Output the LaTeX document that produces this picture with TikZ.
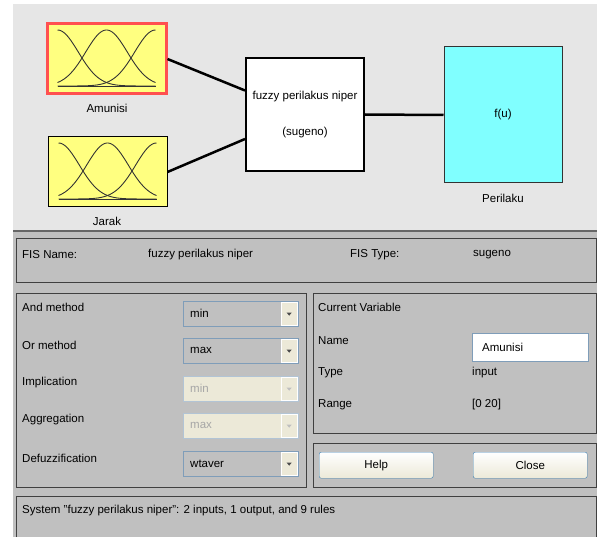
\documentclass[tikz,border=0pt]{standalone}
\usepackage{fontspec}
\setmainfont{Liberation Sans}
\definecolor{topgray}{RGB}{230,230,230}
\definecolor{panelgray}{RGB}{192,192,192}
\definecolor{mfyellow}{RGB}{255,255,128}
\definecolor{selred}{RGB}{255,80,80}
\definecolor{outcyan}{RGB}{128,255,255}
\definecolor{menublue}{RGB}{127,157,185}
\definecolor{beige}{RGB}{236,233,216}
\definecolor{btnblue}{RGB}{60,127,177}
\tikzset{
  mfbox/.style={fill=mfyellow, minimum width=119pt, minimum height=70pt, inner sep=0pt},
  mf/.style={black!80, line width=0.9pt},
  wire/.style={line width=2.5pt},
  panel/.style={draw=black!75, line width=1pt},
  lbl/.style={anchor=west, inner sep=0pt},
  menu/.style={draw=menublue, fill=panelgray, minimum width=115pt, minimum height=25pt,
    inner xsep=7pt, inner ysep=0pt, text width=101pt, align=left, anchor=north west},
  offmenu/.style={menu, fill=beige, draw=menublue!60, text=black!35},
  arrowbox/.style={fill=beige, draw=white, minimum width=16pt, minimum height=23pt,
    inner sep=0pt, anchor=east,
    path picture={\fill[black!70] ([xshift=-2.5pt,yshift=1pt]path picture bounding box.center)
      -- ++(5pt,0pt) -- ++(-2.5pt,-3pt) -- cycle;}},
  field/.style={draw=menublue, fill=white, minimum width=116pt, minimum height=28pt,
    inner xsep=10pt, inner ysep=0pt, text width=96pt, align=left, anchor=north west},
  btn/.style={draw=btnblue, rounded corners=2pt, top color=white, bottom color=beige,
    minimum width=114pt, minimum height=26pt, anchor=north west}
}
\begin{document}
\begin{tikzpicture}[x=1pt,y=-1pt, every node/.style={font=\fontsize{11.5}{13.5}\selectfont}]
		\fill[white] (0,0) rectangle (598,537);
		\fill[topgray] (13,4) rectangle (597,231);
		\fill[panelgray] (13,231) rectangle (597,537);
		\draw[black!60, line width=1.5pt] (13,231) -- (597,231);
		
		\node[mfbox, draw=selred, line width=3pt] (amunisi) at (106.5,59) {};
		\node[mfbox, draw=black, line width=1pt] (jarak) at (107.5,172) {};
		\node (amunisilbl) at (107,108) {Amunisi};
		\node (jaraklbl) at (107,221) {Jarak};
		\node[draw, line width=2pt, fill=white, minimum width=118pt, minimum height=113pt, align=center]
		(fis) at (305,114.5) {fuzzy perilakus niper\\[23pt](sugeno)};
		\node[draw=black!80, line width=1pt, fill=outcyan, minimum width=118pt, minimum height=136pt]
		(perilaku) at (503,115) {f(u)};
		\node (perilakulbl) at (503,198) {Perilaku};
		\foreach \b in {amunisi,jarak}{
			\begin{scope}[shift={(\b.center)}]
				\draw[mf] (-49,27) -- (49,27);
				\draw[mf] plot[domain=-49:49, samples=60] (\x,{27-56*exp(-(\x+49)*(\x+49)/865)});
				\draw[mf] plot[domain=-49:49, samples=60] (\x,{27-56*exp(-(\x)*(\x)/865)});
				\draw[mf] plot[domain=-49:49, samples=60] (\x,{27-56*exp(-(\x-49)*(\x-49)/865)});
			\end{scope}
		}
		\draw[wire]
		(amunisi.east) -- ([yshift=24pt]fis.west)
		(jarak.east) -- ([yshift=-24.5pt]fis.west)
		(fis.east) -- (perilaku.west);
		
		\draw[panel] (16,239) rectangle (596,283);
		\draw[panel] (16,294) rectangle (306,487);
		\draw[panel] (313,294) rectangle (596,433);
		\draw[panel] (313,443) rectangle (596,487);
		\draw[panel] (16,537) |- (596,496) -- (596,537);
		
		\node[lbl] (fisname) at (22,255) {FIS Name:};
		\node[lbl] (fisnameval) at (148,255) {fuzzy perilakus niper};
		\node[lbl] (fistype) at (350,255) {FIS Type:};
		\node[lbl] (fistypeval) at (473,255) {sugeno};
		
		\node[lbl] (andlbl) at (22,307) {And method};
		\node[lbl] (orlbl) at (22,345) {Or method};
		\node[lbl] (implbl) at (22,383) {Implication};
		\node[lbl] (agglbl) at (22,420) {Aggregation};
		\node[lbl] (deflbl) at (22,458) {Defuzzification};
		\node[menu] (andmenu) at (183,301) {min};
		\node[menu] (ormenu) at (183,338) {max};
		\node[offmenu] (impmenu) at (183,376) {min};
		\node[offmenu] (aggmenu) at (183,413) {max};
		\node[menu] (defmenu) at (183,451) {wtaver};
		\node[arrowbox] (andarrow) at ([xshift=-1pt]andmenu.east) {};
		\node[arrowbox] (orarrow) at ([xshift=-1pt]ormenu.east) {};
		\node[arrowbox, path picture={\fill[black!25] ([xshift=-2.5pt,yshift=1pt]path picture bounding box.center) -- ++(5pt,0pt) -- ++(-2.5pt,-3pt) -- cycle;}] (imparrow) at ([xshift=-1pt]impmenu.east) {};
		\node[arrowbox, path picture={\fill[black!25] ([xshift=-2.5pt,yshift=1pt]path picture bounding box.center) -- ++(5pt,0pt) -- ++(-2.5pt,-3pt) -- cycle;}] (aggarrow) at ([xshift=-1pt]aggmenu.east) {};
		\node[arrowbox] (defarrow) at ([xshift=-1pt]defmenu.east) {};
		
		\node[lbl] (curvar) at (318,307) {Current Variable};
		\node[lbl] (namelbl) at (318,341) {Name};
		\node[lbl] (typelbl) at (318,373) {Type};
		\node[lbl] (rangelbl) at (318,405) {Range};
		\node[field] (namebox) at (472,333) {Amunisi};
		\node[lbl] (typeval) at (472,373) {input};
		\node[lbl] (rangeval) at (472,405) {[0 20]};
		
		\node[btn] (help) at (319,452) {Help};
		\node[btn] (close) at (473,452) {Close};
		
		\node[lbl] (status) at (22,511) {System "fuzzy perilakus niper": 2 inputs, 1 output, and 9 rules};
	\end{tikzpicture}
\end{document}
